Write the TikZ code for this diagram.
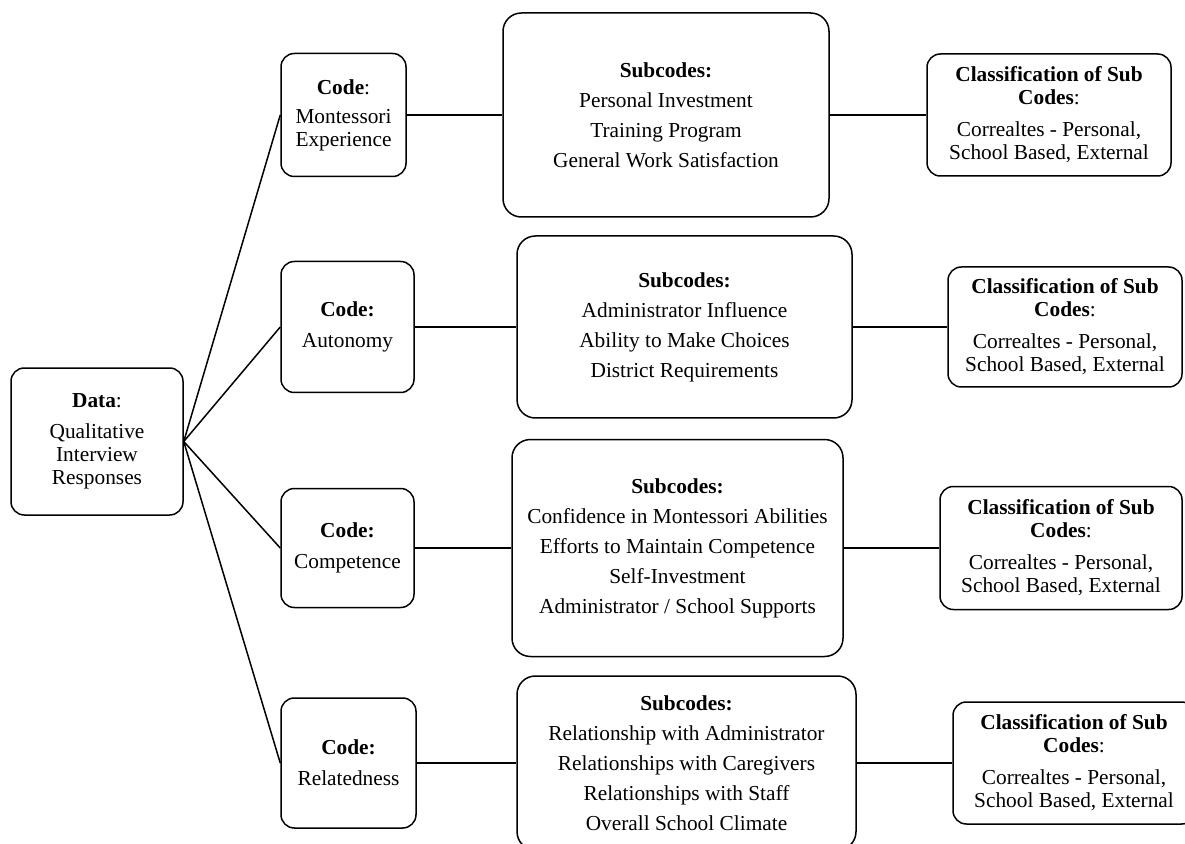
\documentclass[tikz,border=0pt]{standalone}
\usepackage{fontspec}
\setmainfont{Liberation Serif}
\begin{document}
\begin{tikzpicture}[x=0.6pt,y=-0.6pt,line width=0.9pt,
	box/.style={draw,rounded corners=8pt,align=center,inner sep=0pt,font=\fontsize{12.8}{13.8}\selectfont},
	subbox/.style={draw,rounded corners=11pt,align=center,inner sep=0pt,font=\fontsize{12.8}{18}\selectfont}]
	\useasboundingbox (0,0) rectangle (1185,844);
	% first column
	\node[box,minimum width=103.2pt,minimum height=88.2pt] (data) at (97,441.5) {\textbf{Data}:\\[4.8pt]Qualitative\\Interview\\Responses};
	% codes
	\node[box,minimum width=75pt,minimum height=73.8pt] (code1) at (343.5,115) {\textbf{Code}:\\[3.6pt]Montessori\\Experience};
	\node[box,minimum width=79.8pt,minimum height=78.6pt] (code2) at (347.5,327) {\textbf{Code:}\\[4.8pt]Autonomy};
	\node[box,minimum width=79.8pt,minimum height=71.4pt] (code3) at (347.5,548) {\textbf{Code:}\\[4.8pt]Competence};
	\node[box,minimum width=81pt,minimum height=78pt] (code4) at (348.5,763) {\textbf{Code:}\\[4.8pt]Relatedness};
	% subcodes
	\node[subbox,minimum width=195.6pt,minimum height=122.4pt] (sub1) at (666,115) {\textbf{Subcodes:}\\Personal Investment\\Training Program\\General Work Satisfaction};
	\node[subbox,minimum width=201pt,minimum height=109.2pt] (sub2) at (684.5,327) {\textbf{Subcodes:}\\Administrator Influence\\Ability to Make Choices\\District Requirements};
	\node[subbox,minimum width=198.6pt,minimum height=130.2pt] (sub3) at (677.5,548) {\textbf{Subcodes:}\\Confidence in Montessori Abilities\\Efforts to Maintain Competence\\Self-Investment\\Administrator / School Supports};
	\node[subbox,minimum width=203.4pt,minimum height=104.4pt] (sub4) at (686.5,763) {\textbf{Subcodes:}\\Relationship with Administrator\\Relationships with Caregivers\\Relationships with Staff\\Overall School Climate};
	% classification
	\node[box,minimum width=146.4pt,minimum height=73.2pt] (cls1) at (1049,115) {\textbf{Classification of Sub}\\\textbf{Codes}:\\[5.4pt]Correaltes - Personal,\\School Based, External};
	\node[box,minimum width=140.4pt,minimum height=72pt] (cls2) at (1065,327) {\textbf{Classification of Sub}\\\textbf{Codes}:\\[5.4pt]Correaltes - Personal,\\School Based, External};
	\node[box,minimum width=145.2pt,minimum height=73.8pt] (cls3) at (1061,548) {\textbf{Classification of Sub}\\\textbf{Codes}:\\[5.4pt]Correaltes - Personal,\\School Based, External};
	\node[box,minimum width=145.2pt,minimum height=73.2pt] (cls4) at (1074,763) {\textbf{Classification of Sub}\\\textbf{Codes}:\\[5.4pt]Correaltes - Personal,\\School Based, External};
	% connectors
	\foreach \i in {1,...,4}{
		\draw (data.east)--(code\i.west);
		\draw (code\i.east)--(sub\i.west);
		\draw (sub\i.east)--(cls\i.west);
	}
\end{tikzpicture}
\end{document}
